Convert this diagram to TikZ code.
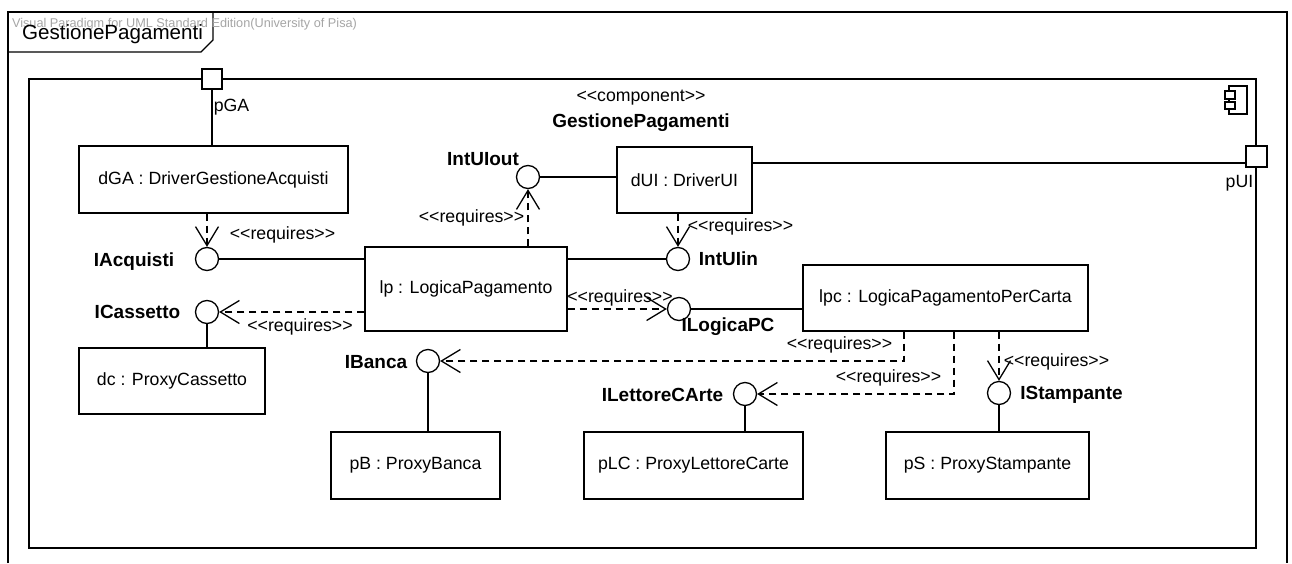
\documentclass[tikz,border=0pt]{standalone}
\usepackage{fontspec}
\setmainfont{Liberation Sans}
\usetikzlibrary{arrows.meta}
\newcommand\stl{<\kern0pt<}
\newcommand\stg{>\kern0pt>}
\begin{document}
\begin{tikzpicture}[x=0.5pt,y=-0.5pt,
  every node/.style={inner sep=0pt},
  ln/.style={line width=0.65pt, draw=black},
  box/.style={draw, ln, rectangle, fill=white, font=\fontsize{8.85}{10.6}\selectfont},
  port/.style={draw, ln, rectangle, fill=white, minimum size=10pt},
  iface/.style={draw, ln, circle, minimum size=11.5pt, fill=white},
  lbl/.style={font=\fontsize{8.85}{10.6}\selectfont},
  blbl/.style={font=\fontsize{9.5}{11}\selectfont\bfseries},
  conn/.style={ln},
  req/.style={ln, dash pattern=on 3.5pt off 2.5pt, -{Straight Barb[length=9.5pt,width=11.5pt]}},
]
\useasboundingbox (0,0) rectangle (1292,563);
\fill[white] (0,0) rectangle (1292,563);
% outer frame
\draw[ln] (8,563) -- (8,12) -- (1287,12) -- (1287,563);
\draw[ln] (8,52) -- (201,52) -- (213,40) -- (213,12);
\node[font=\fontsize{6.35}{7}\selectfont, text=black!35] (wm) at (184.5,24) {Visual Paradigm for UML Standard Edition(University of Pisa)};
\node[font=\fontsize{10.3}{12}\selectfont] (tabtxt) at (112.5,34) {GestionePagamenti};
% component
\node[draw, ln, minimum width=613.5pt, minimum height=234.5pt] (comp) at (642.5,313.5) {};
\draw[ln] (1229,86) rectangle (1247,114);
\draw[ln, fill=white] (1225,91) rectangle (1235,99);
\draw[ln, fill=white] (1225,102) rectangle (1235,109);
\node[lbl] (stereo) at (641,98) {\stl component\stg};
\node[blbl] (compname) at (641,123) {GestionePagamenti};
% ports
\node[port] (pGA) at (212,79) {};
\node[lbl] (pGAl) at (231.5,107) {pGA};
\node[port, minimum size=10.5pt] (pUI) at (1256.5,156.5) {};
\node[lbl] (pUIl) at (1239.5,183) {pUI};
% parts
\node[box, minimum width=134.5pt, minimum height=33.5pt] (dGA) at (213.5,179.5) {dGA : DriverGestioneAcquisti};
\node[box, minimum width=67.5pt, minimum height=33pt] (dUI) at (684.5,180) {dUI : DriverUI};
\node[box, minimum width=101pt, minimum height=42pt] (lp) at (466,289) {lp : LogicaPagamento};
\node[box, minimum width=142.5pt, minimum height=33pt] (lpc) at (945.5,298) {lpc : LogicaPagamentoPerCarta};
\node[box, minimum width=93pt, minimum height=33pt] (dc) at (172,381) {dc : ProxyCassetto};
\node[box, minimum width=84.5pt, minimum height=33.5pt] (pB) at (415.5,465.5) {pB : ProxyBanca};
\node[box, minimum width=109.5pt, minimum height=33.5pt] (pLC) at (693.5,465.5) {pLC : ProxyLettoreCarte};
\node[box, minimum width=101.5pt, minimum height=33.5pt] (pS) at (987.5,465.5) {pS : ProxyStampante};
% interfaces
\node[iface] (IAcq) at (207,259) {};
\node[iface] (ICas) at (207,312) {};
\node[iface] (IUo) at (528,177) {};
\node[iface] (IUi) at (678,259) {};
\node[iface] (ILPC) at (679,309) {};
\node[iface] (IBan) at (428,361) {};
\node[iface] (ILC) at (745,394) {};
\node[iface] (ISt) at (999,393) {};
% helper coordinates
\coordinate (b1) at (904,0);
\coordinate (b2) at (954,0);
\coordinate (uiy) at (0,163);
% solid connectors
\draw[conn] (pGA.south) -- (dGA.north -| pGA);
\draw[conn] (dUI.east |- uiy) -- (pUI.west |- uiy);
\draw[conn] (IUo.east) -- (dUI.west |- IUo);
\draw[conn] (IAcq.east) -- (lp.west |- IAcq);
\draw[conn] (lp.east |- IUi) -- (IUi.west);
\draw[conn] (ILPC.east) -- (lpc.west |- ILPC);
\draw[conn] (ICas.south) -- (dc.north -| ICas);
\draw[conn] (IBan.south) -- (pB.north -| IBan);
\draw[conn] (ILC.south) -- (pLC.north -| ILC);
\draw[conn] (ISt.south) -- (pS.north -| ISt);
% requires dependencies
\draw[req] (dGA.south -| IAcq) -- (IAcq.north);
\draw[req] (lp.west |- ICas) -- (ICas.east);
\draw[req] (lp.north -| IUo) -- (IUo.south);
\draw[req] (dUI.south -| IUi) -- (IUi.north);
\draw[req] (lp.east |- ILPC) -- (ILPC.west);
\draw[req] (lpc.south -| b1) |- (IBan.east);
\draw[req] (lpc.south -| b2) |- (ILC.east);
\draw[req] (lpc.south -| ISt) -- (ISt.north);
% requires labels
\node[lbl] (r1) at (282.5,235) {\stl requires\stg};
\node[lbl] (r2) at (300,327) {\stl requires\stg};
\node[lbl] (r3) at (471.5,218) {\stl requires\stg};
\node[lbl] (r4) at (740.5,227) {\stl requires\stg};
\node[lbl] (r5) at (620,298) {\stl requires\stg};
\node[lbl] (r6) at (839.5,345) {\stl requires\stg};
\node[lbl] (r7) at (888.5,378) {\stl requires\stg};
\node[lbl] (r8) at (1056.5,362) {\stl requires\stg};
% interface labels
\node[blbl] (lIAcq) at (134,262) {IAcquisti};
\node[blbl] (lICas) at (137.5,312) {ICassetto};
\node[blbl] (lIUo) at (483,159) {IntUIout};
\node[blbl] (lIUi) at (728.5,259) {IntUIin};
\node[blbl] (lILPC) at (728,327) {ILogicaPC};
\node[blbl] (lIBan) at (376,362) {IBanca};
\node[blbl] (lILC) at (662.5,395) {ILettoreCArte};
\node[blbl] (lISt) at (1071.5,395) {IStampante};
\end{tikzpicture}
\end{document}
